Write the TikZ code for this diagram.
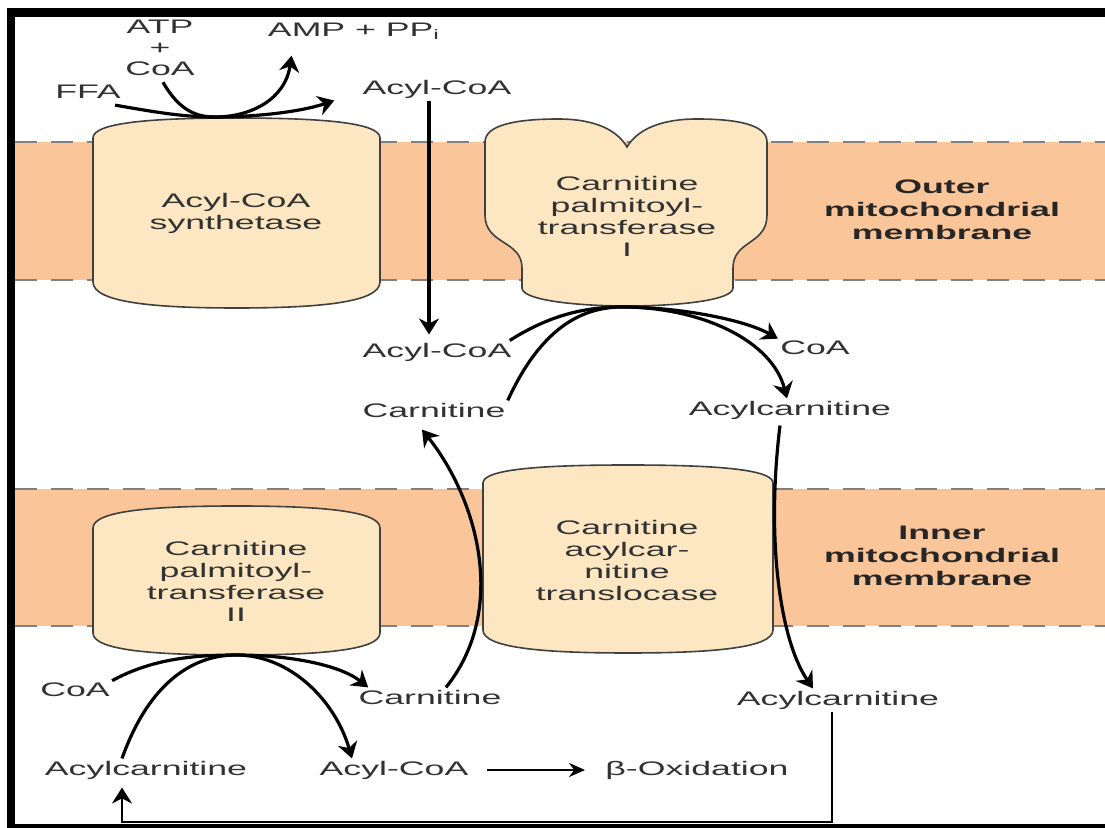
\documentclass[tikz,border=0pt]{standalone}
\usepackage{fontspec}
\setmainfont{Liberation Sans}[FakeStretch=1.82]
\usetikzlibrary{arrows.meta}

\definecolor{membrane}{RGB}{249,197,153}
\definecolor{protein}{RGB}{253,231,194}
\definecolor{txtgray}{RGB}{50,50,50}

\tikzset{
  lbl/.style={text=txtgray, font=\fontsize{9.8}{11}\selectfont, inner sep=1pt, align=center},
  memlbl/.style={lbl, text=black!85, font=\fontsize{9.8}{11.5}\selectfont\bfseries},
  flow/.style={line width=1.6pt, -{Stealth[length=8pt,width=10pt]}},
  conn/.style={line width=1.2pt},
  band/.style={fill=membrane, draw=none},
  dashline/.style={draw=gray, line width=1pt, dash pattern=on 11pt off 7pt},
  prot/.style={fill=protein, draw=black!75, line width=0.8pt},
}

% x1 x2 side-top peak-top side-bottom peak-bottom
\newcommand\cylpath[6]{(#1,#3) .. controls (#1,{#3-0.8*(#3-#4)}) and ({#1+0.22*(#2-#1)},#4) .. ({(#1+#2)/2},#4)
  .. controls ({#2-0.22*(#2-#1)},#4) and (#2,{#3-0.8*(#3-#4)}) .. (#2,#3)
  -- (#2,#5) .. controls (#2,{#5+0.8*(#6-#5)}) and ({#2-0.22*(#2-#1)},#6) .. ({(#1+#2)/2},#6)
  .. controls ({#1+0.22*(#2-#1)},#6) and (#1,{#5+0.8*(#6-#5)}) .. (#1,#5) -- cycle}

\begin{document}
\begin{tikzpicture}[x=0.5pt, y=-0.5pt]
  \useasboundingbox (0,0) rectangle (1105,828);

  % membranes
  \fill[band] (15,142) rectangle (1105,280);
  \fill[band] (15,489) rectangle (1105,626);
  \foreach \yy in {142,280,489,626}
    \draw[dashline] (15,\yy) -- (1105,\yy);

  % proteins
  \draw[prot] \cylpath{93}{380}{138}{118}{282}{308};
  \draw[prot] (485,142) .. controls (485,124) and (520,119) .. (558,119)
    .. controls (595,119) and (617,130) .. (627,147)
    .. controls (637,130) and (660,119) .. (697,119)
    .. controls (735,119) and (767,124) .. (767,142)
    -- (767,215) .. controls (767,245) and (733,240) .. (733,268)
    -- (733,288) .. controls (733,312) and (522,312) .. (522,288)
    -- (522,268) .. controls (522,240) and (485,245) .. (485,215) -- cycle;
  \draw[prot] \cylpath{483}{773}{483}{465}{630}{653};
  \draw[prot] \cylpath{93}{380}{528}{506}{633}{655};
  \coordinate (cptIbot) at (622,307);
  \coordinate (cptIIbot) at (236,655);
  \coordinate (acsTop) at (215,117);

  % labels
  \node[lbl, font=\fontsize{9.8}{10.5}\selectfont] (atp) at (160,48) {ATP\\+\\CoA};
  \node[lbl] (amp) at (354,31) {AMP + PP\textsubscript{i}};
  \node[lbl] (ffa) at (88,92) {FFA};
  \node[lbl] (acyl1) at (437,89) {Acyl-CoA};
  \node[lbl] (acs) at (236,213) {Acyl-CoA\\synthetase};
  \node[lbl] (cpt1) at (627,216) {Carnitine\\palmitoyl-\\transferase\\I};
  \node[memlbl] (outer) at (942,210) {Outer\\mitochondrial\\membrane};
  \node[lbl] (acyl2) at (437,352) {Acyl-CoA};
  \node[lbl] (coa2) at (815,348) {CoA};
  \node[lbl] (carn2) at (434,410) {Carnitine};
  \node[lbl] (acylc2) at (790,410) {Acylcarnitine};
  \node[memlbl] (inner) at (942,556) {Inner\\mitochondrial\\membrane};
  \node[lbl] (cact) at (627,560) {Carnitine\\acylcar-\\nitine\\translocase};
  \node[lbl] (cpt2) at (236,581) {Carnitine\\palmitoyl-\\transferase\\II};
  \node[lbl] (coa3) at (75,690) {CoA};
  \node[lbl] (carn3) at (430,697) {Carnitine};
  \node[lbl] (acylc3) at (838,700) {Acylcarnitine};
  \node[lbl] (acylc4) at (146,770) {Acylcarnitine};
  \node[lbl] (acyl3) at (394,770) {Acyl-CoA};
  \node[lbl] (box) at (697,770) {β-Oxidation};

  % activation
  \draw[flow] ([shift={(-4pt,-2pt)}]ffa.south east) .. controls (160,113) and (185,117) .. (acsTop)
    .. controls (255,117) and (300,112) .. ([xshift=-13pt]acyl1.south west);
  \draw[flow] ([shift={(1.5pt,-2pt)}]atp.south) .. controls (180,112) and (198,117) .. (acsTop)
    .. controls (250,117) and (285,100) .. ([shift={(13pt,-7pt)}]amp.south west);
  \draw[flow] ([xshift=-4pt]acyl1.south) -- ([shift={(-4pt,3pt)}]acyl2.north);

  % CPT I
  \draw[flow] ([xshift=-2pt]acyl2.north east) .. controls (550,315) and (585,307) .. (cptIbot)
    .. controls (680,307) and (745,320) .. (coa2.north west);
  \draw[flow] (carn2.north east) .. controls (540,330) and (580,307) .. (cptIbot)
    .. controls (700,307) and (772,340) .. ([xshift=-1.5pt]acylc2.north);

  % translocase
  \draw[flow] ([shift={(-5pt,-2pt)}]acylc2.south) .. controls (766,540) and (780,640) .. ([xshift=-12.5pt]acylc3.north);
  \draw[flow] ([xshift=8pt]carn3.north) .. controls (508,610) and (478,500) .. ([shift={(-6pt,-5pt)}]carn2.south);

  % CPT II
  \draw[flow] (coa3.north east) .. controls (150,660) and (190,655) .. (cptIIbot)
    .. controls (290,655) and (340,665) .. ([xshift=6pt]carn3.north west);
  \draw[flow] ([xshift=-12pt]acylc4.north) .. controls (150,680) and (195,655) .. (cptIIbot)
    .. controls (290,655) and (335,700) .. ([xshift=-21pt]acyl3.north);

  \draw[conn, -{Stealth[length=8pt,width=7pt]}] ([xshift=8pt]acyl3.east) -- ([xshift=-9pt]box.west);
  \coordinate (loopbot) at (480,822);
  \draw[conn, -{Stealth[length=8pt,width=10pt]}] ([xshift=-3pt]acylc3.south) |- (loopbot)
    -| ([shift={(-12pt,-3pt)}]acylc4.south);

  % frame
  \fill (7,8) rectangle (1105,17);
  \fill (7,8) rectangle (15,828);
  \fill (7,824) rectangle (1105,828);
\end{tikzpicture}
\end{document}
